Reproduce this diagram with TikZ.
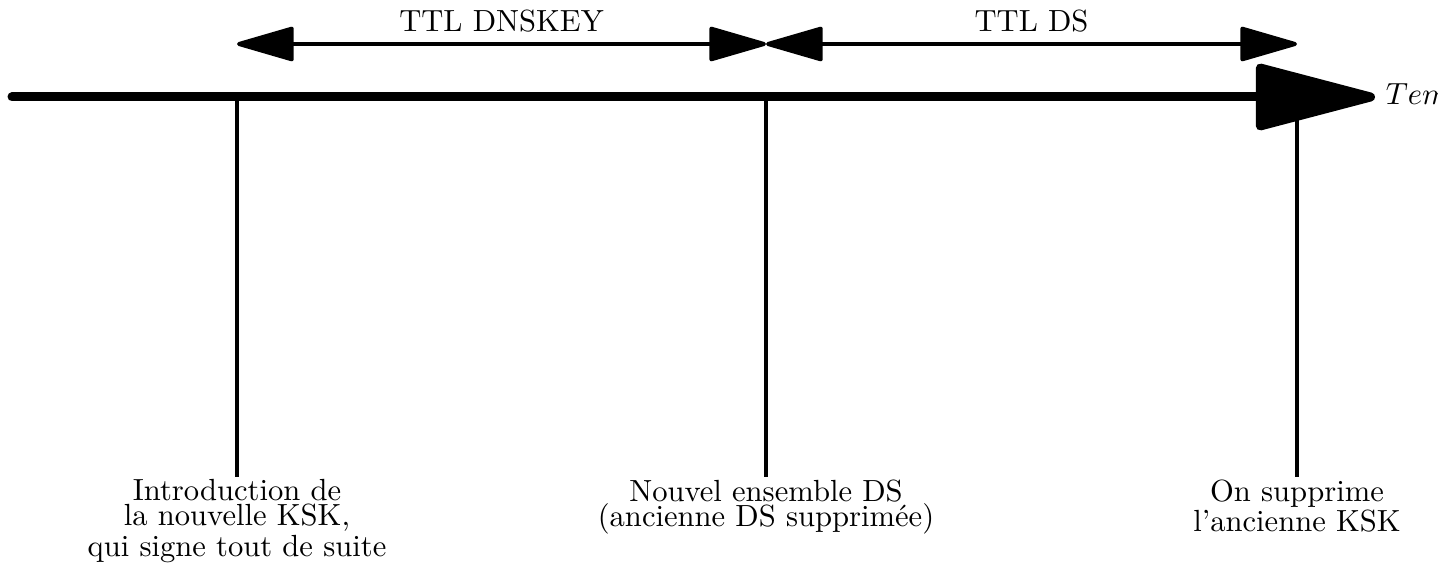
\documentclass[tikz,border=0pt]{standalone}
\usetikzlibrary{arrows.meta}
\begin{document}
\begin{tikzpicture}[x=0.3268pt,y=-0.3268pt,
  every node/.style={font=\fontsize{10}{8.2}\selectfont},
  axis/.style={line width=2.94pt, line cap=round, -{Triangle[length=43.5pt,width=21.9pt,round]}},
  tick/.style={line width=1.31pt},
  span/.style={line width=1.31pt, {Triangle[length=20.3pt,width=11.4pt,round]}-{Triangle[length=20.3pt,width=11.4pt,round]}},
  lbl/.style={anchor=north, align=center, inner sep=0.65pt}]
\useasboundingbox (0,0) rectangle (1438,567);
% coordinates on the axis
\coordinate (start) at (12,97);
\coordinate (end) at (1375,97);
\coordinate (p1) at (237,97);
\coordinate (p2) at (766,97);
\coordinate (p3) at (1297,97);
% coordinates for the TTL spans
\coordinate (t1) at (237,44);
\coordinate (t2) at (766,44);
\coordinate (t3) at (1297,44);
% labels
\node[lbl] (l1) at (237,477) {Introduction de\\la nouvelle KSK,\\qui signe tout de suite};
\node[lbl] (l2) at (766,477) {Nouvel ensemble DS\\(ancienne DS supprimée)};
\node[lbl] (l3) at (1297,477) {On supprime\\l'ancienne KSK};
% ticks
\draw[tick] (p1) -- (l1);
\draw[tick] (p2) -- (l2);
\draw[tick] (p3) -- (l3);
% axis
\draw[axis] (start) -- (end);
\node[anchor=west] (temps) at (end) {$Temps$};
% spans
\draw[span] (t1) -- node[above] (ttl1) {TTL DNSKEY} (t2);
\draw[span] (t2) -- node[above] (ttl2) {TTL DS} (t3);
\end{tikzpicture}
\end{document}
